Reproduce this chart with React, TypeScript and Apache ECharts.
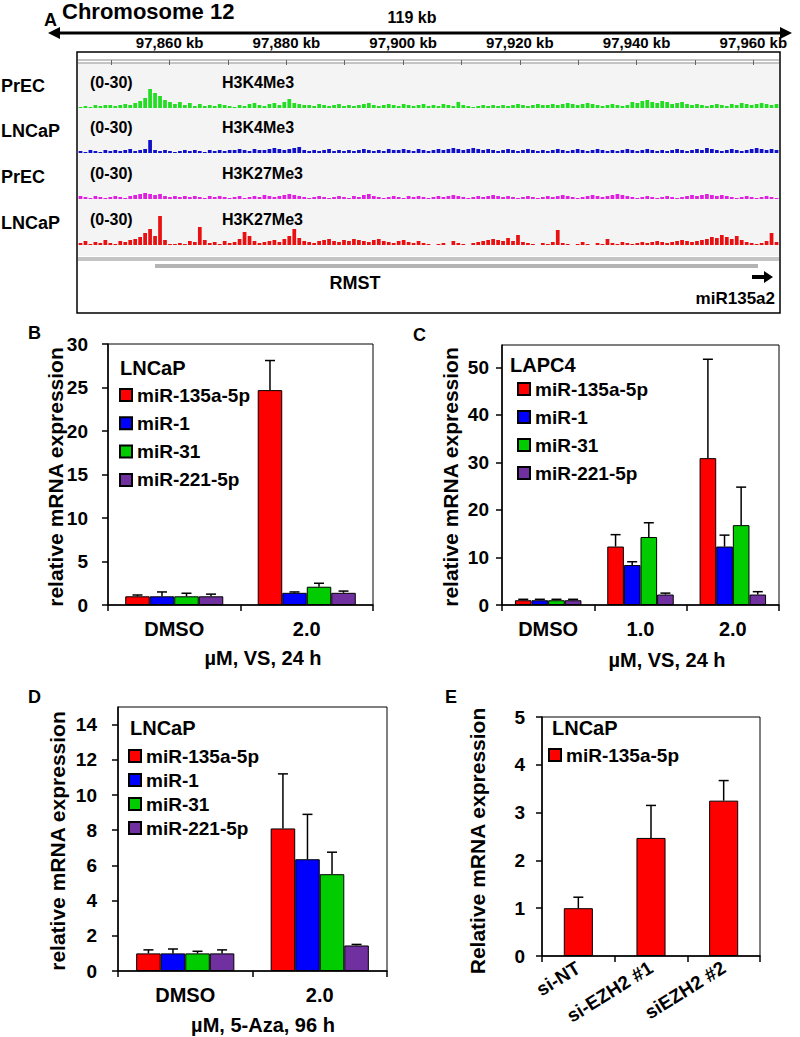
import React, { useEffect, useRef } from "react";
import * as echarts from "echarts";

const FONT = "Liberation Sans";

// ---------------- Panel A data ----------------
const regionStartKb = 97844.3;
const regionEndKb = 97964.4;
const rulerTickKb = [97850, 97860, 97870, 97880, 97890, 97900, 97910, 97920, 97930, 97940, 97950, 97960];
const rulerLabelKb = [97860, 97880, 97900, 97920, 97940, 97960];
const trackCells = ["PrEC", "LNCaP", "PrEC", "LNCaP"];
const trackMarks = ["H3K4Me3", "H3K4Me3", "H3K27Me3", "H3K27Me3"];
const trackRange = "(0-30)";
const trackMax = 30;

const precH3K4Me3 = [
  1, 2, 1, 3, 2, 3, 3, 2, 3, 4, 3,
  5, 7, 10, 19, 15, 12, 8, 6, 4,
  6, 3, 5, 2, 4,
  2, 3, 2, 4, 3, 2, 1, 3, 2, 4, 5, 3, 2, 4, 5, 3,
  6, 9, 5, 4, 3,
  3, 2, 4, 3, 2, 3, 4, 2, 3, 2, 3, 4, 5, 3, 2, 3, 4, 3, 2, 4, 3, 2, 3, 4, 2,
  3, 2, 4, 3, 2, 6, 3, 2, 1, 2, 3, 2, 3, 2, 3,
  2, 3, 4, 3, 2, 3, 4, 3, 3, 4, 3, 4, 5, 4, 3, 4, 5, 4, 3, 2, 3, 4, 3, 2, 3,
  6, 5, 7, 8, 6, 5, 7, 6, 4, 5, 6, 4, 3, 4, 3,
  2, 3, 4, 3, 2, 4, 3, 5, 4, 3, 4, 5, 4, 3, 4,
];
const lncapH3K4Me3 = [
  2, 1, 3, 2, 1, 3, 2, 3, 2, 3, 4, 2, 3, 4, 13,
  3, 2, 3, 2, 1, 2, 3, 2, 3, 2, 1, 3, 2, 3, 2, 3,
  3, 4, 3, 2, 4, 3, 3, 4, 5, 4, 3, 4, 5, 6, 3,
  2, 3, 2, 3, 4, 2, 3, 2, 3, 2, 3, 4, 3, 2, 3, 2, 4, 3, 3, 4, 3, 2, 4, 3, 2,
  3, 4, 3, 4, 5, 4, 3, 4, 5, 4, 3, 4, 3, 2, 3, 4, 3, 2, 3, 4, 3, 2, 3, 2, 3,
  4, 3, 2, 3, 4, 3, 2, 3, 4, 3, 2, 3, 2, 3, 4, 3, 2, 3, 4, 3, 2, 3, 2, 3, 4,
  3, 2, 3, 4, 3, 5, 4, 3, 2, 3, 4, 3, 2, 3, 4, 5, 4, 3, 4, 3,
];
const precH3K27Me3 = [
  3, 2, 1, 3, 2, 1, 2, 3, 2, 1, 3,
  4, 5, 6, 5, 4, 5, 3, 2, 3,
  2, 3, 2, 3, 2, 1, 3, 2, 3, 2, 1, 2, 3, 1, 2, 3, 2, 4, 3, 2, 3, 4, 5, 4, 3, 2,
  1, 2, 3, 2, 1, 2, 3, 2, 1, 3, 2, 4, 5, 3, 2, 1, 2, 3, 2, 1, 3, 2, 3, 2, 1,
  2, 3, 2, 3, 4, 3, 2, 1, 2, 3, 2, 3, 4, 3, 2, 3, 2, 1, 2, 3, 2, 1, 2, 3, 2,
  3, 4, 3, 2, 1, 2, 3, 4, 3, 2, 3, 4, 5, 4, 3, 2, 1, 2, 3, 2, 1, 2, 3, 2, 1,
  2, 3, 4, 3, 4, 5, 4, 3, 4, 3, 2, 1, 2, 3, 2, 1, 2, 3, 2, 1,
];
const lncapH3K27Me3 = [
  2, 4, 1, 3, 2, 5, 2, 1, 4, 3, 5, 6,
  8, 12, 16, 9, 29, 5, 1,
  1, 2, 1, 4, 3, 18, 5, 2, 3, 1, 4, 2,
  3, 6, 13, 9, 4, 2, 3, 4, 5, 3, 6, 9, 16, 7, 4,
  3, 2, 4, 5, 6, 4, 3, 5, 4, 6, 5, 4, 3, 5, 6, 4, 3, 2, 4, 5, 3, 2, 4, 2, 1,
  0, 1, 2, 0, 4, 2, 1, 0, 2, 3, 4, 5, 6, 5, 4, 7, 4, 10, 3, 2,
  1, 0, 2, 1, 3, 15, 2, 1, 0, 1, 3, 1, 0, 2, 1,
  6, 2, 1, 3, 2, 1, 2, 3, 2, 3, 4, 3, 2, 3, 4, 5, 4, 3, 4, 5,
  6, 8, 7, 10, 8, 6, 9, 5, 3, 2, 1, 2, 4, 12, 3,
];
const trackSignals = [precH3K4Me3, lncapH3K4Me3, precH3K27Me3, lncapH3K27Me3];
const trackColors = ["#22dd22", "#1010c8", "#e020e0", "#e81010"];

// ---------------- Panels B-E data ----------------
const mirNames = ["miR-135a-5p", "miR-1", "miR-31", "miR-221-5p"];
const mirColors = ["#ff0000", "#0000ff", "#00cc00", "#7030a0"];

const bCategories = ["DMSO", "2.0"];
const bMiR135a = [1.0, 24.7];
const bMiR1 = [1.0, 1.4];
const bMiR31 = [1.0, 2.1];
const bMiR221 = [1.0, 1.4];
const bMiR135aSd = [0.15, 3.4];
const bMiR1Sd = [0.5, 0.1];
const bMiR31Sd = [0.35, 0.4];
const bMiR221Sd = [0.25, 0.2];
const bTicks = [0, 5, 10, 15, 20, 25, 30];

const cCategories = ["DMSO", "1.0", "2.0"];
const cMiR135a = [1.0, 12.3, 30.9];
const cMiR1 = [1.0, 8.4, 12.3];
const cMiR31 = [1.0, 14.3, 16.8];
const cMiR221 = [1.0, 2.2, 2.2];
const cMiR135aSd = [0.2, 2.5, 20.8];
const cMiR1Sd = [0.2, 0.7, 2.4];
const cMiR31Sd = [0.2, 3.0, 8.0];
const cMiR221Sd = [0.2, 0.3, 0.6];
const cTicks = [0, 10, 20, 30, 40, 50];

const dCategories = ["DMSO", "2.0"];
const dMiR135a = [1.0, 8.1];
const dMiR1 = [1.0, 6.35];
const dMiR31 = [1.0, 5.5];
const dMiR221 = [1.0, 1.45];
const dMiR135aSd = [0.2, 3.1];
const dMiR1Sd = [0.25, 2.55];
const dMiR31Sd = [0.12, 1.25];
const dMiR221Sd = [0.2, 0.06];
const dTicks = [0, 2, 4, 6, 8, 10, 12, 14];

const eCategories = ["si-NT", "si-EZH2 #1", "siEZH2 #2"];
const eMiR135a = [1.0, 2.47, 3.25];
const eMiR135aSd = [0.23, 0.68, 0.42];
const eTicks = [0, 1, 2, 3, 4, 5];

// ---------------- layout ----------------
const trackBaselines = [108, 153, 199, 245];

function txt(text: string, x: number, y: number, size: number, align = "left", rotation = 0) {
  return {
    type: "text",
    x,
    y,
    z: 100,
    rotation,
    silent: true,
    style: {
      text,
      fill: "#000",
      fontSize: size,
      fontWeight: "bold",
      fontFamily: FONT,
      textAlign: align,
      textVerticalAlign: "middle",
    },
  };
}

function errorSeries(gridIdx: number, values: number[], sds: number[], k: number, n: number, groupFrac: number) {
  return {
    type: "custom",
    xAxisIndex: gridIdx,
    yAxisIndex: gridIdx,
    z: 5,
    silent: true,
    encode: { x: 0, y: [1, 2] },
    data: values.map((v, i) => [i, v, v + sds[i]]),
    renderItem: (params: any, api: any) => {
      const ci = api.value(0);
      const band = api.size([1, 0])[0];
      const group = band * groupFrac;
      const bw = group / n;
      const off = -group / 2 + (k + 0.5) * bw;
      const p0 = api.coord([ci, api.value(1)]);
      const p1 = api.coord([ci, api.value(2)]);
      const x = p0[0] + off;
      const st = { stroke: "#000", lineWidth: 1.5 };
      return {
        type: "group",
        children: [
          { type: "line", shape: { x1: x, y1: p0[1], x2: x, y2: p1[1] }, style: st },
          { type: "line", shape: { x1: x - 5, y1: p1[1], x2: x + 5, y2: p1[1] }, style: st },
        ],
      };
    },
  };
}

function buildOption() {
  const grids: any[] = [];
  const xAxes: any[] = [];
  const yAxes: any[] = [];
  const series: any[] = [];
  const legends: any[] = [];
  const graphics: any[] = [];

  const axisTextStyle = { color: "#000", fontWeight: "bold", fontFamily: FONT };

  // ruler grid (0)
  grids.push({ left: 78, top: 55, width: 701, height: 5 });
  xAxes.push({
    type: "value",
    gridIndex: 0,
    position: "top",
    min: regionStartKb,
    max: regionEndKb,
    axisLine: { show: false },
    splitLine: { show: false },
    axisTick: { show: true, inside: true, length: 5, customValues: rulerTickKb, lineStyle: { color: "#666", width: 1 } },
    axisLabel: {
      customValues: rulerLabelKb,
      margin: 5,
      fontSize: 15,
      ...axisTextStyle,
      formatter: (v: number) => v.toLocaleString("en-US") + " kb",
    },
  });
  yAxes.push({ type: "value", gridIndex: 0, show: false });

  // tracks (1-4)
  trackSignals.forEach((sig, t) => {
    const gi = 1 + t;
    grids.push({ left: 78, width: 701, top: trackBaselines[t] - 30, height: 30 });
    xAxes.push({ type: "category", gridIndex: gi, show: false, data: sig.map((_, i) => i) });
    yAxes.push({ type: "value", gridIndex: gi, show: false, min: 0, max: trackMax });
    series.push({
      type: "bar",
      xAxisIndex: gi,
      yAxisIndex: gi,
      data: sig,
      barCategoryGap: "25%",
      silent: true,
      itemStyle: { color: trackColors[t] },
    });
  });

  // bar panels
  const panels = [
    {
      cats: bCategories, vals: [bMiR135a, bMiR1, bMiR31, bMiR221], sds: [bMiR135aSd, bMiR1Sd, bMiR31Sd, bMiR221Sd],
      max: 30, ticks: bTicks, grid: { left: 108, top: 344, width: 265, height: 261 }, gap: 0.26, lblMargin: 20,
      legend: { left: 119, top: 385, gap: 8.3 }, names: mirNames,
    },
    {
      cats: cCategories, vals: [cMiR135a, cMiR1, cMiR31, cMiR221], sds: [cMiR135aSd, cMiR1Sd, cMiR31Sd, cMiR221Sd],
      max: 54.7, ticks: cTicks, grid: { left: 502, top: 345, width: 277, height: 260 }, gap: 0.28, lblMargin: 13,
      legend: { left: 517, top: 379, gap: 8 }, names: mirNames,
    },
    {
      cats: dCategories, vals: [dMiR135a, dMiR1, dMiR31, dMiR221], sds: [dMiR135aSd, dMiR1Sd, dMiR31Sd, dMiR221Sd],
      max: 15, ticks: dTicks, grid: { left: 118, top: 707, width: 269, height: 264 }, gap: 0.27, lblMargin: 21,
      legend: { left: 128, top: 746, gap: 4 }, names: mirNames,
    },
    {
      cats: eCategories, vals: [eMiR135a], sds: [eMiR135aSd],
      max: 5, ticks: eTicks, grid: { left: 542, top: 717, width: 218, height: 239 }, gap: 0.6, lblMargin: 17,
      legend: { left: 548, top: 745, gap: 4 }, names: [mirNames[0]], rotate: 32,
    },
  ];

  panels.forEach((p, pi) => {
    const gi = 5 + pi;
    grids.push({ ...p.grid, show: true, borderColor: "#000", borderWidth: 1, backgroundColor: "transparent" });
    xAxes.push({
      type: "category",
      gridIndex: gi,
      data: p.cats,
      axisLine: { lineStyle: { color: "#000", width: 1.5 } },
      axisTick: { show: true, length: 6, lineStyle: { color: "#000", width: 1.5 } },
      axisLabel: {
        interval: 0,
        margin: p.rotate ? 10 : 14,
        rotate: p.rotate || 0,
        fontSize: p.rotate ? 19 : 20,
        ...axisTextStyle,
      },
    });
    yAxes.push({
      type: "value",
      gridIndex: gi,
      min: 0,
      max: p.max,
      axisLine: { show: true, lineStyle: { color: "#000", width: 1.5 } },
      axisTick: { show: true, length: 6, customValues: p.ticks, lineStyle: { color: "#000", width: 1.5 } },
      axisLabel: { customValues: p.ticks, margin: p.lblMargin, fontSize: 19, ...axisTextStyle },
      splitLine: { show: false },
    });
    const n = p.vals.length;
    const groupFrac = 1 - p.gap;
    p.vals.forEach((vals, k) => {
      series.push({
        name: p.names[k],
        type: "bar",
        xAxisIndex: gi,
        yAxisIndex: gi,
        data: vals,
        barGap: "0%",
        ...(n === 1 ? { barWidth: "40%" } : { barCategoryGap: Math.round(p.gap * 100) + "%" }),
        itemStyle: { color: mirColors[k], borderColor: "#000", borderWidth: 1 },
      });
      series.push(errorSeries(gi, vals, p.sds[k], k, n, n === 1 ? 0.4 : groupFrac));
    });
    legends.push({
      orient: "vertical",
      left: p.legend.left,
      top: p.legend.top,
      padding: 0,
      itemWidth: 12,
      itemHeight: 12,
      itemGap: p.legend.gap,
      icon: "rect",
      selectedMode: false,
      data: p.names,
      textStyle: { fontSize: 19, lineHeight: 20, ...axisTextStyle },
    });
  });

  // ---------- Panel A decorations ----------
  graphics.push({ type: "rect", z: -10, shape: { x: 77, y: 52, width: 703, height: 261 }, style: { fill: "#fff", stroke: "#000", lineWidth: 1.5 } });
  graphics.push({ type: "rect", z: -9, shape: { x: 78, y: 64, width: 701, height: 192 }, style: { fill: "#f4f4f4" } });
  graphics.push({ type: "line", z: -8, shape: { x1: 78, y1: 60, x2: 779, y2: 60 }, style: { stroke: "#888", lineWidth: 1 } });
  graphics.push({ type: "line", z: -8, shape: { x1: 78, y1: 63, x2: 779, y2: 63 }, style: { stroke: "#888", lineWidth: 1 } });
  graphics.push({ type: "line", z: -8, shape: { x1: 78, y1: 259, x2: 779, y2: 259 }, style: { stroke: "#c4c4c4", lineWidth: 4 } });
  graphics.push({ type: "rect", z: -8, shape: { x: 155, y: 264, width: 603, height: 4 }, style: { fill: "#b4b4b4" } });
  // gene direction arrow
  graphics.push({
    type: "polygon", z: 10,
    shape: { points: [[752, 275], [764, 275], [764, 271], [773, 277], [764, 283], [764, 279], [752, 279]] },
    style: { fill: "#000" },
  });
  // chromosome span arrow
  graphics.push({ type: "line", z: 10, shape: { x1: 56, y1: 33, x2: 784, y2: 33 }, style: { stroke: "#000", lineWidth: 3 } });
  graphics.push({ type: "polygon", z: 10, shape: { points: [[48, 33], [60, 27], [60, 39]] }, style: { fill: "#000" } });
  graphics.push({ type: "polygon", z: 10, shape: { points: [[792, 33], [780, 27], [780, 39]] }, style: { fill: "#000" } });

  graphics.push(txt("A", 44, 20, 18));
  graphics.push(txt("Chromosome 12", 62, 11, 22));
  graphics.push(txt("119 kb", 412, 17, 16, "center"));
  trackCells.forEach((c, t) => {
    graphics.push(txt(c, 1, trackBaselines[t] - 22, 18));
    graphics.push(txt(trackRange, 90, trackBaselines[t] - 26, 16));
    graphics.push(txt(trackMarks[t], 222, trackBaselines[t] - 26, 16));
  });
  graphics.push(txt("RMST", 355, 283, 18, "center"));
  graphics.push(txt("miR135a2", 775, 298, 17, "right"));

  // ---------- Panels B-E texts ----------
  graphics.push(txt("B", 28, 333, 18));
  graphics.push(txt("C", 413, 335, 18));
  graphics.push(txt("D", 28, 697, 18));
  graphics.push(txt("E", 445, 697, 18));
  graphics.push(txt("LNCaP", 120, 368, 20));
  graphics.push(txt("LAPC4", 510, 365, 20));
  graphics.push(txt("LNCaP", 130, 728, 20));
  graphics.push(txt("LNCaP", 552, 728, 20));
  graphics.push(txt("relative mRNA expression", 55, 477, 21, "center", Math.PI / 2));
  graphics.push(txt("relative mRNA expression", 450, 477, 21, "center", Math.PI / 2));
  graphics.push(txt("relative mRNA expression", 57, 841, 21, "center", Math.PI / 2));
  graphics.push(txt("Relative mRNA expression", 477, 841, 21, "center", Math.PI / 2));
  graphics.push(txt("µM, VS, 24 h", 263, 658, 20, "center"));
  graphics.push(txt("µM, VS, 24 h", 667, 660, 20, "center"));
  graphics.push(txt("µM, 5-Aza, 96 h", 263, 1025, 20, "center"));

  return {
    animation: false,
    backgroundColor: "#fff",
    grid: grids,
    xAxis: xAxes,
    yAxis: yAxes,
    legend: legends,
    series,
    graphic: { elements: graphics },
  };
}

export default function App() {
  const ref = useRef<HTMLDivElement>(null);
  useEffect(() => {
    if (!ref.current) return;
    const chart = echarts.init(ref.current, null, { renderer: "svg" });
    chart.setOption(buildOption() as any);
    return () => chart.dispose();
  }, []);
  return <div ref={ref} style={{ position: "absolute", left: 0, top: 0, width: 800, height: 1037 }} />;
}
